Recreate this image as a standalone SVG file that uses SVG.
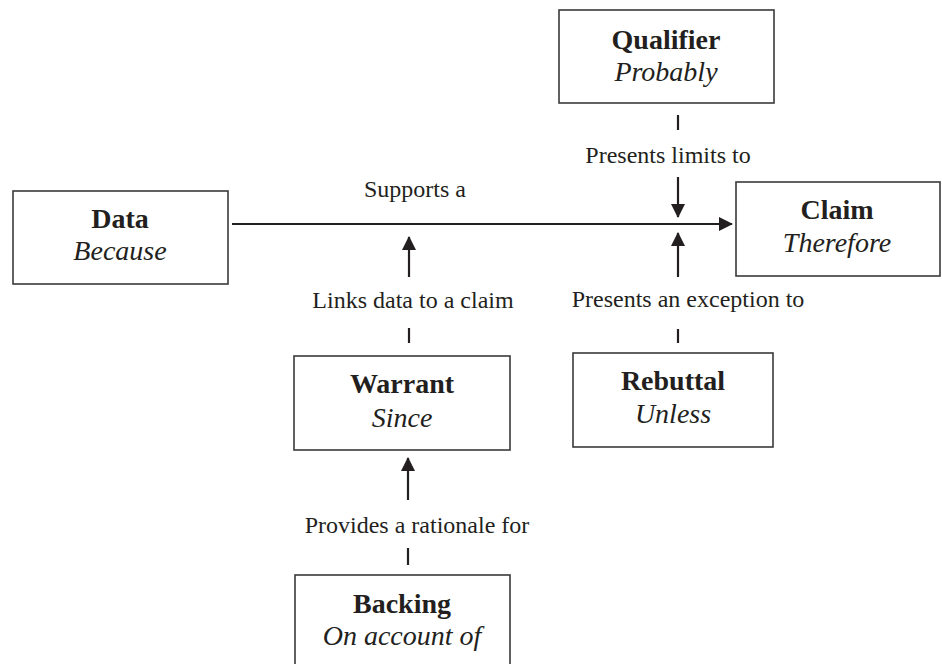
<svg xmlns="http://www.w3.org/2000/svg" width="942" height="664" viewBox="0 0 942 664">
<defs>
<style>
.box{fill:#fff;stroke:#3a3a3a;stroke-width:1.6}
.t{font-family:"Liberation Serif","Times New Roman",serif;fill:#231f20;text-anchor:middle}
.b{font-weight:bold;font-size:28px}
.i{font-style:italic;font-size:28px}
.l{font-size:24px}
.c{stroke:#231f20;stroke-width:2.2;fill:none}
</style>
<marker id="ah" viewBox="0 0 14 14" refX="13" refY="7" markerWidth="14" markerHeight="14" markerUnits="userSpaceOnUse" orient="auto">
<path d="M0,0 L14,7 L0,14 Z" fill="#231f20"/>
</marker>
</defs>
<rect width="942" height="664" fill="#fff"/>
<g id="connectors">
<line class="c" x1="232" y1="224" x2="732" y2="224" marker-end="url(#ah)"/>
<text class="t l" x="415" y="197">Supports a</text>
<line class="c" x1="678" y1="115" x2="678" y2="130"/>
<text class="t l" x="668" y="163">Presents limits to</text>
<line class="c" x1="678" y1="177" x2="678" y2="217" marker-end="url(#ah)"/>
<line class="c" x1="678" y1="277" x2="678" y2="233" marker-end="url(#ah)"/>
<text class="t l" x="688" y="307">Presents an exception to</text>
<line class="c" x1="678" y1="329" x2="678" y2="343"/>
<line class="c" x1="409" y1="277" x2="409" y2="237" marker-end="url(#ah)"/>
<text class="t l" x="413" y="308">Links data to a claim</text>
<line class="c" x1="409" y1="328" x2="409" y2="343"/>
<line class="c" x1="408" y1="500" x2="408" y2="458" marker-end="url(#ah)"/>
<text class="t l" x="417" y="533">Provides a rationale for</text>
<line class="c" x1="408" y1="548" x2="408" y2="565"/>
</g>
<g id="data">
<rect class="box" x="13" y="191" width="215" height="93"/>
<text class="t b" x="120" y="228">Data</text>
<text class="t i" x="120" y="260">Because</text>
</g>
<g id="qualifier">
<rect class="box" x="559" y="10" width="215" height="93"/>
<text class="t b" x="666" y="49">Qualifier</text>
<text class="t i" x="666" y="81">Probably</text>
</g>
<g id="claim">
<rect class="box" x="736" y="182" width="204" height="94"/>
<text class="t b" x="837" y="219">Claim</text>
<text class="t i" x="837" y="252">Therefore</text>
</g>
<g id="warrant">
<rect class="box" x="294" y="356" width="216" height="94"/>
<text class="t b" x="402" y="393">Warrant</text>
<text class="t i" x="402" y="427">Since</text>
</g>
<g id="rebuttal">
<rect class="box" x="573" y="353" width="200" height="94"/>
<text class="t b" x="673" y="390">Rebuttal</text>
<text class="t i" x="673" y="423">Unless</text>
</g>
<g id="backing">
<rect class="box" x="295" y="575" width="215" height="94"/>
<text class="t b" x="402" y="613">Backing</text>
<text class="t i" x="402" y="645">On account of</text>
</g>
</svg>
